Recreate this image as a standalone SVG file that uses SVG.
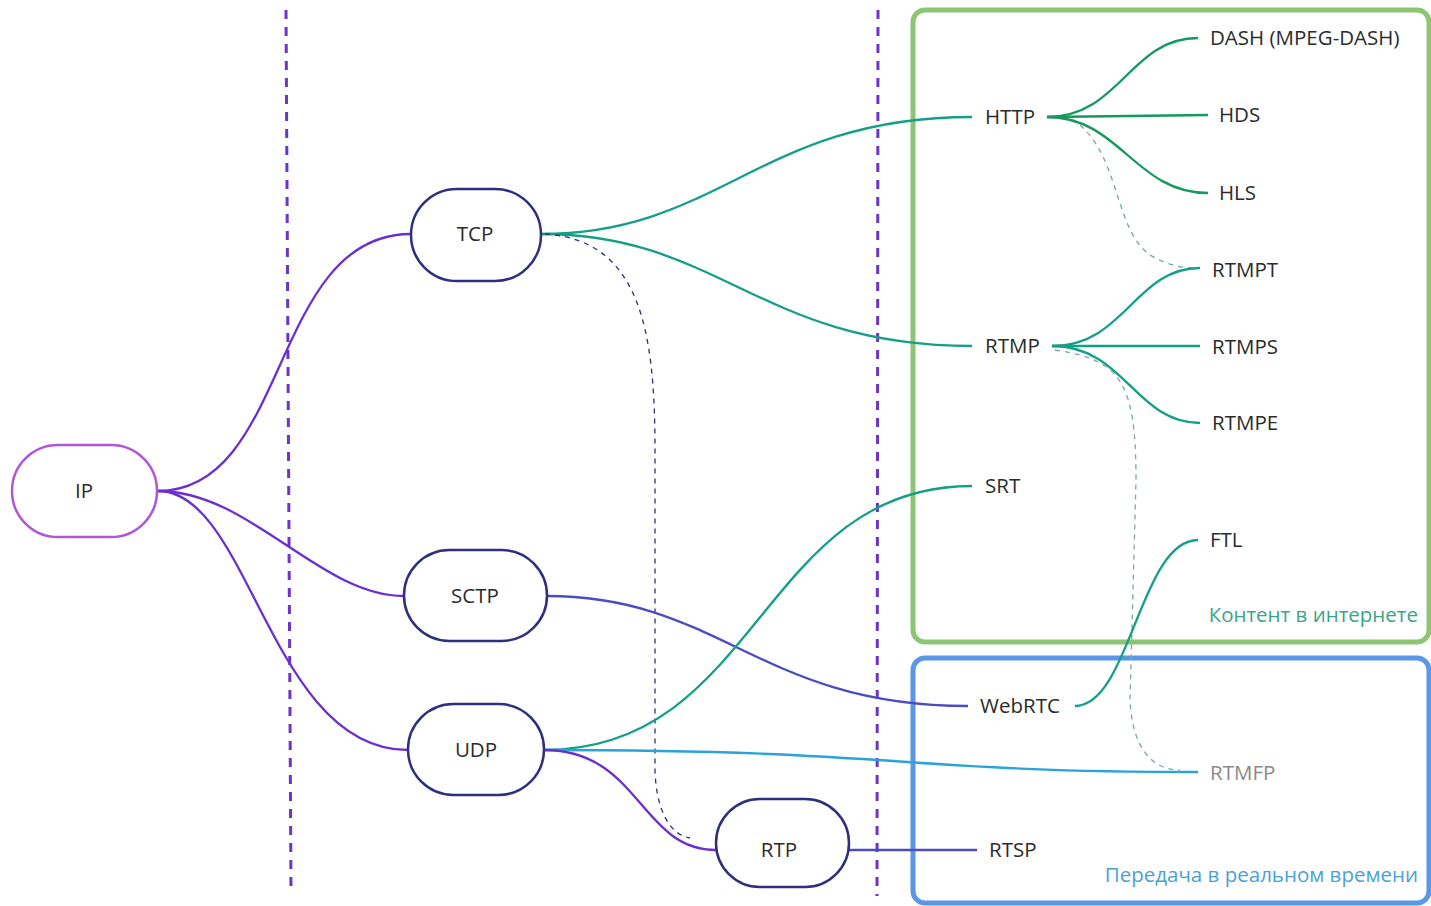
<svg xmlns="http://www.w3.org/2000/svg" width="1431" height="906" viewBox="0 0 1431 906">
<style>
text{font-family:"Open Sans","Noto Sans","Liberation Sans",sans-serif;font-size:20.5px;fill:#2b2b2b}
.node{fill:#fff;stroke:#2e2f7e;stroke-width:2.5}
.c{fill:none;stroke-width:2.3}
.pur{stroke:#6a2fd0}
.tl{stroke:#149f86}
.gr{stroke:#14995e}
.nv{stroke:#4b4cc0}
.lb{stroke:#2aa3da}
.dsh{fill:none;stroke-width:1.3;stroke-dasharray:5 5}
.vline{stroke:#6a35c8;stroke-width:3;stroke-dasharray:9 8;fill:none}
</style>
<rect width="1431" height="906" fill="#fff"/>
<g id="separators">
<path class="vline" d="M286,10 L291,890"/>
<path class="vline" d="M878,10 L877,896"/>
</g>
<g id="group-internet">
<rect x="913" y="10" width="516" height="632" rx="12" fill="none" stroke="#8cc574" stroke-width="5"/>
<text x="1418" y="622" text-anchor="end" style="fill:#3aa58a">Контент в интернете</text>
</g>
<g id="group-realtime">
<rect x="913" y="658" width="516" height="245" rx="12" fill="none" stroke="#5b97e6" stroke-width="5"/>
<text x="1418" y="882" text-anchor="end" style="fill:#4aa3cf">Передача в реальном времени</text>
</g>
<g id="connectors">
<path class="c pur" d="M158,491 C290,491 270,234 411,234"/>
<path class="c pur" d="M158,491 C250,491 320,596 404,596"/>
<path class="c pur" d="M158,491 C250,491 270,750 408,750"/>
<path class="c tl" d="M541,234 C720,234 760,117 972,117"/>
<path class="c tl" d="M541,234 C720,234 760,346 972,346"/>
<path class="dsh" stroke="#2e2f7e" d="M545,234 C640,240 655,330 655,450 L655,770 C656,810 670,835 690,838"/>
<path class="c nv" d="M547,596 C720,596 760,706 968,706"/>
<path class="c tl" d="M544,750 C760,750 760,486 972,486"/>
<path class="c lb" d="M544,750 C900,750 900,772 1198,772"/>
<path class="c pur" d="M544,750 C640,750 640,850 716,850"/>
<path class="c nv" d="M849,850 L977,850"/>
<path class="c gr" d="M1047,117 C1120,117 1130,38 1198,38"/>
<path class="c gr" d="M1047,117 L1208,115"/>
<path class="c gr" d="M1047,117 C1120,117 1135,193 1208,193"/>
<path class="dsh" stroke="#7aa5a0" d="M1080,125 C1120,160 1115,230 1150,255 C1170,267 1185,268 1198,268"/>
<path class="c tl" d="M1052,346 C1125,346 1135,268 1200,268"/>
<path class="c tl" d="M1052,346 L1200,346"/>
<path class="c tl" d="M1052,346 C1125,346 1135,423 1200,423"/>
<path class="dsh" stroke="#7aa5b0" d="M1055,350 C1120,360 1136,380 1136,480 L1130,700 C1132,745 1150,770 1180,770"/>
<path class="c tl" d="M1075,706 C1130,706 1140,540 1198,540"/>
</g>
<g id="node-ip">
<rect x="12" y="445" width="145" height="92" rx="46" fill="#fff" stroke="#b057d8" stroke-width="2.5"/>
<text x="84" y="498" text-anchor="middle">IP</text>
</g>
<g id="node-tcp">
<rect class="node" x="411" y="189" width="130" height="92" rx="46"/>
<text x="475" y="241" text-anchor="middle">TCP</text>
</g>
<g id="node-sctp">
<rect class="node" x="404" y="550" width="143" height="91" rx="45.5"/>
<text x="475" y="603" text-anchor="middle">SCTP</text>
</g>
<g id="node-udp">
<rect class="node" x="408" y="704" width="136" height="91" rx="45.5"/>
<text x="476" y="757" text-anchor="middle">UDP</text>
</g>
<g id="node-rtp">
<rect class="node" x="716" y="799" width="133" height="88" rx="44"/>
<text x="779" y="857" text-anchor="middle">RTP</text>
</g>
<g id="node-http"><text x="985" y="124">HTTP</text></g>
<g id="node-dash"><text x="1210" y="45">DASH (MPEG-DASH)</text></g>
<g id="node-hds"><text x="1219" y="122">HDS</text></g>
<g id="node-hls"><text x="1219" y="200">HLS</text></g>
<g id="node-rtmpt"><text x="1212" y="277">RTMPT</text></g>
<g id="node-rtmp"><text x="985" y="353">RTMP</text></g>
<g id="node-rtmps"><text x="1212" y="354">RTMPS</text></g>
<g id="node-rtmpe"><text x="1212" y="430">RTMPE</text></g>
<g id="node-srt"><text x="985" y="493">SRT</text></g>
<g id="node-ftl"><text x="1210" y="547">FTL</text></g>
<g id="node-webrtc"><text x="980" y="713">WebRTC</text></g>
<g id="node-rtmfp"><text x="1210" y="780" style="fill:#8a8a8a">RTMFP</text></g>
<g id="node-rtsp"><text x="989" y="857">RTSP</text></g>
</svg>
